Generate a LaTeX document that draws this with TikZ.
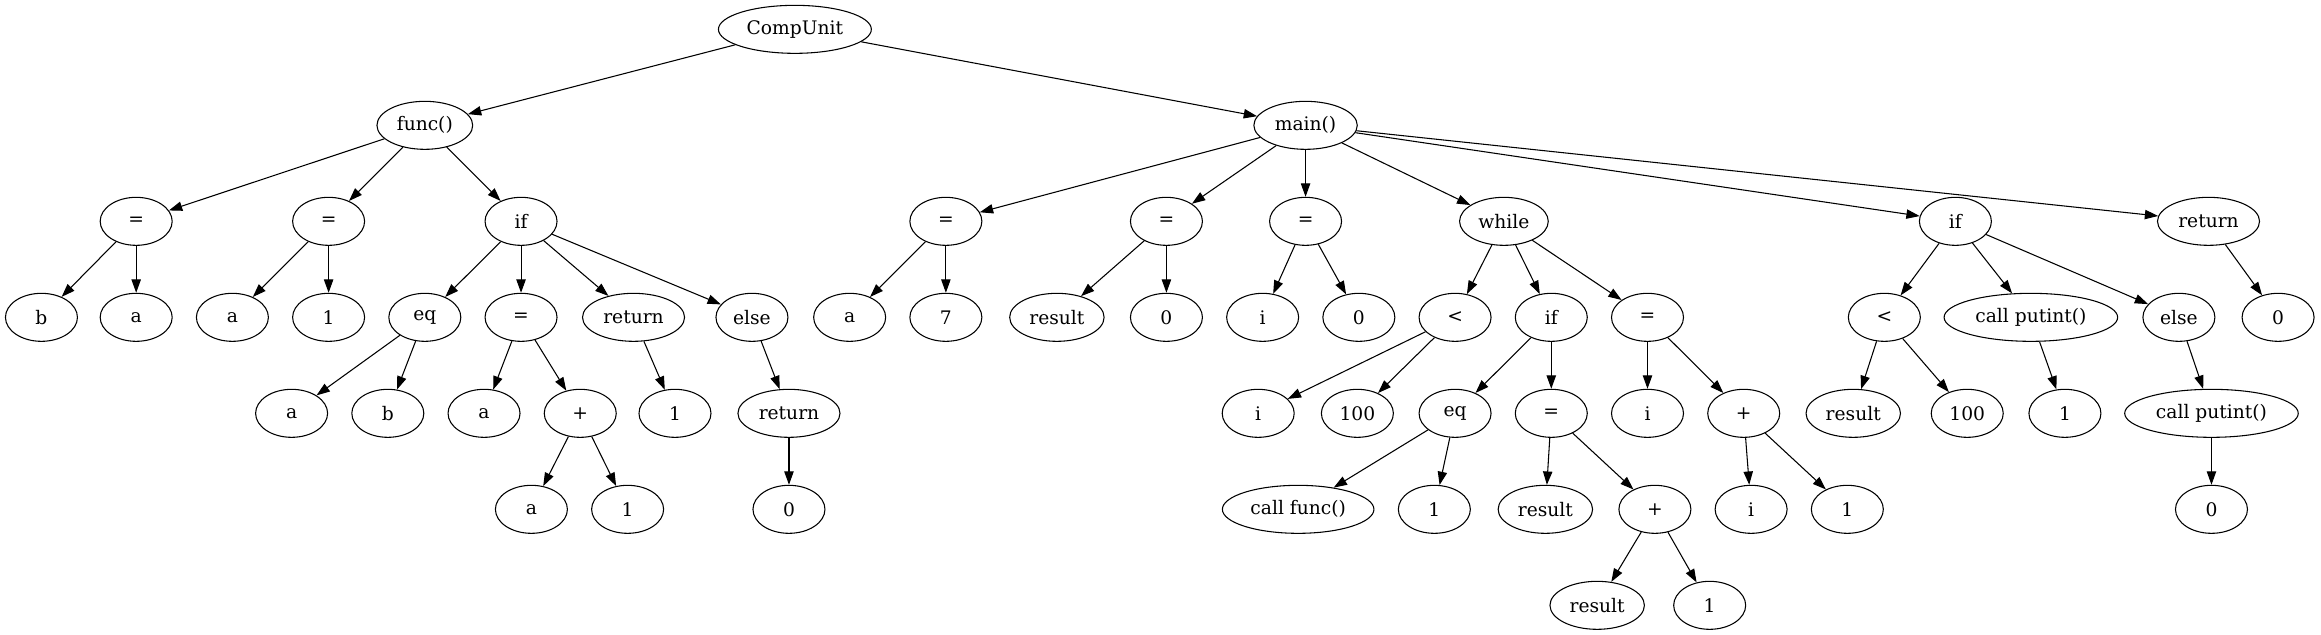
\documentclass[tikz,border=0pt]{standalone}
\usepackage{fontspec}
\setmainfont{DejaVu Serif}
\usetikzlibrary{shapes.geometric, arrows.meta}
\tikzset{
    astnode/.style={draw, ellipse, line width=0.8pt, minimum width=54pt, minimum height=36pt, inner xsep=4.4pt, font=\fontsize{14pt}{16pt}\selectfont},
    astedge/.style={-{Triangle[length=10pt, width=7pt]}, line width=0.8pt}
}
\begin{document}
\begin{tikzpicture}[x=1.1102pt, y=-72pt]
    \useasboundingbox (0,-0.30556) rectangle (1568,6.30903);

    % Root and functions
    \node[astnode] (cu) at (537, 0) {CompUnit};
    \node[astnode] (fn) at (287, 1) {func()};
    \node[astnode] (mn) at (882, 1) {main()};

    % func() body
    \node[astnode] (fA) at (92, 2) {=};
    \node[astnode] (fB) at (222, 2) {=};
    \node[astnode] (fIf) at (352, 2) {if};
    \node[astnode] (fAb) at (28, 3) {b};
    \node[astnode] (fAa) at (92, 3) {a};
    \node[astnode] (fBa) at (157, 3) {a};
    \node[astnode] (fB1) at (222, 3) {1};
    \node[astnode] (fEq) at (287, 3) {eq};
    \node[astnode] (fAs) at (352, 3) {=};
    \node[astnode] (fRet) at (428, 3) {return};
    \node[astnode] (fElse) at (508, 3) {else};
    \node[astnode] (fEqa) at (197, 4) {a};
    \node[astnode] (fEqb) at (262, 4) {b};
    \node[astnode] (fAsa) at (327, 4) {a};
    \node[astnode] (fPlus) at (392, 4) {+};
    \node[astnode] (fRet1) at (456, 4) {1};
    \node[astnode] (fElseRet) at (533, 4) {return};
    \node[astnode] (fPlusa) at (359, 5) {a};
    \node[astnode] (fPlus1) at (424, 5) {1};
    \node[astnode] (fElseRet0) at (533, 5) {0};

    % main() body
    \node[astnode] (mA) at (639, 2) {=};
    \node[astnode] (mB) at (788, 2) {=};
    \node[astnode] (mC) at (882, 2) {=};
    \node[astnode] (mWh) at (1016, 2) {while};
    \node[astnode] (mIf) at (1321, 2) {if};
    \node[astnode] (mRet) at (1492, 2) {return};
    \node[astnode] (mAa) at (574, 3) {a};
    \node[astnode] (mA7) at (639, 3) {7};
    \node[astnode] (mBres) at (714, 3) {result};
    \node[astnode] (mB0) at (788, 3) {0};
    \node[astnode] (mCi) at (853, 3) {i};
    \node[astnode] (mC0) at (918, 3) {0};

    % while loop
    \node[astnode] (wLt) at (983, 3) {<};
    \node[astnode] (wIf) at (1048, 3) {if};
    \node[astnode] (wAs) at (1113, 3) {=};
    \node[astnode] (wLti) at (850, 4) {i};
    \node[astnode] (wLt100) at (917, 4) {100};
    \node[astnode] (wEq) at (983, 4) {eq};
    \node[astnode] (wIfAs) at (1048, 4) {=};
    \node[astnode] (wAsi) at (1113, 4) {i};
    \node[astnode] (wPlus) at (1178, 4) {+};
    \node[astnode] (wEqCall) at (877, 5) {call func()};
    \node[astnode] (wEq1) at (969, 5) {1};
    \node[astnode] (wIfAsRes) at (1044, 5) {result};
    \node[astnode] (wIfPlus) at (1118, 5) {+};
    \node[astnode] (wPlusi) at (1183, 5) {i};
    \node[astnode] (wPlus1) at (1248, 5) {1};
    \node[astnode] (wIfPlusRes) at (1079, 6) {result};
    \node[astnode] (wIfPlus1) at (1155, 6) {1};

    % final if and return
    \node[astnode] (iLt) at (1273, 3) {<};
    \node[astnode] (iCall) at (1372, 3) {call putint()};
    \node[astnode] (iElse) at (1472, 3) {else};
    \node[astnode] (mRet0) at (1539, 3) {0};
    \node[astnode] (iLtres) at (1252, 4) {result};
    \node[astnode] (iLt100) at (1329, 4) {100};
    \node[astnode] (iCall1) at (1395, 4) {1};
    \node[astnode] (iElseCall) at (1494, 4) {call putint()};
    \node[astnode] (iElseCall0) at (1494, 5) {0};

    % Edges: root
    \draw[astedge] (cu) -- (fn);
    \draw[astedge] (cu) -- (mn);

    % Edges: func()
    \draw[astedge] (fn) -- (fA);
    \draw[astedge] (fn) -- (fB);
    \draw[astedge] (fn) -- (fIf);
    \draw[astedge] (fA) -- (fAb);
    \draw[astedge] (fA) -- (fAa);
    \draw[astedge] (fB) -- (fBa);
    \draw[astedge] (fB) -- (fB1);
    \draw[astedge] (fIf) -- (fEq);
    \draw[astedge] (fIf) -- (fAs);
    \draw[astedge] (fIf) -- (fRet);
    \draw[astedge] (fIf) -- (fElse);
    \draw[astedge] (fEq) -- (fEqa);
    \draw[astedge] (fEq) -- (fEqb);
    \draw[astedge] (fAs) -- (fAsa);
    \draw[astedge] (fAs) -- (fPlus);
    \draw[astedge] (fPlus) -- (fPlusa);
    \draw[astedge] (fPlus) -- (fPlus1);
    \draw[astedge] (fRet) -- (fRet1);
    \draw[astedge] (fElse) -- (fElseRet);
    \draw[astedge] (fElseRet) -- (fElseRet0);

    % Edges: main()
    \draw[astedge] (mn) -- (mA);
    \draw[astedge] (mn) -- (mB);
    \draw[astedge] (mn) -- (mC);
    \draw[astedge] (mn) -- (mWh);
    \draw[astedge] (mn) -- (mIf);
    \draw[astedge] (mn) -- (mRet);
    \draw[astedge] (mA) -- (mAa);
    \draw[astedge] (mA) -- (mA7);
    \draw[astedge] (mB) -- (mBres);
    \draw[astedge] (mB) -- (mB0);
    \draw[astedge] (mC) -- (mCi);
    \draw[astedge] (mC) -- (mC0);

    % Edges: while
    \draw[astedge] (mWh) -- (wLt);
    \draw[astedge] (mWh) -- (wIf);
    \draw[astedge] (mWh) -- (wAs);
    \draw[astedge] (wLt) -- (wLti);
    \draw[astedge] (wLt) -- (wLt100);
    \draw[astedge] (wIf) -- (wEq);
    \draw[astedge] (wIf) -- (wIfAs);
    \draw[astedge] (wEq) -- (wEqCall);
    \draw[astedge] (wEq) -- (wEq1);
    \draw[astedge] (wIfAs) -- (wIfAsRes);
    \draw[astedge] (wIfAs) -- (wIfPlus);
    \draw[astedge] (wIfPlus) -- (wIfPlusRes);
    \draw[astedge] (wIfPlus) -- (wIfPlus1);
    \draw[astedge] (wAs) -- (wAsi);
    \draw[astedge] (wAs) -- (wPlus);
    \draw[astedge] (wPlus) -- (wPlusi);
    \draw[astedge] (wPlus) -- (wPlus1);

    % Edges: if / return
    \draw[astedge] (mIf) -- (iLt);
    \draw[astedge] (mIf) -- (iCall);
    \draw[astedge] (mIf) -- (iElse);
    \draw[astedge] (iLt) -- (iLtres);
    \draw[astedge] (iLt) -- (iLt100);
    \draw[astedge] (iCall) -- (iCall1);
    \draw[astedge] (iElse) -- (iElseCall);
    \draw[astedge] (iElseCall) -- (iElseCall0);
    \draw[astedge] (mRet) -- (mRet0);
\end{tikzpicture}
\end{document}
